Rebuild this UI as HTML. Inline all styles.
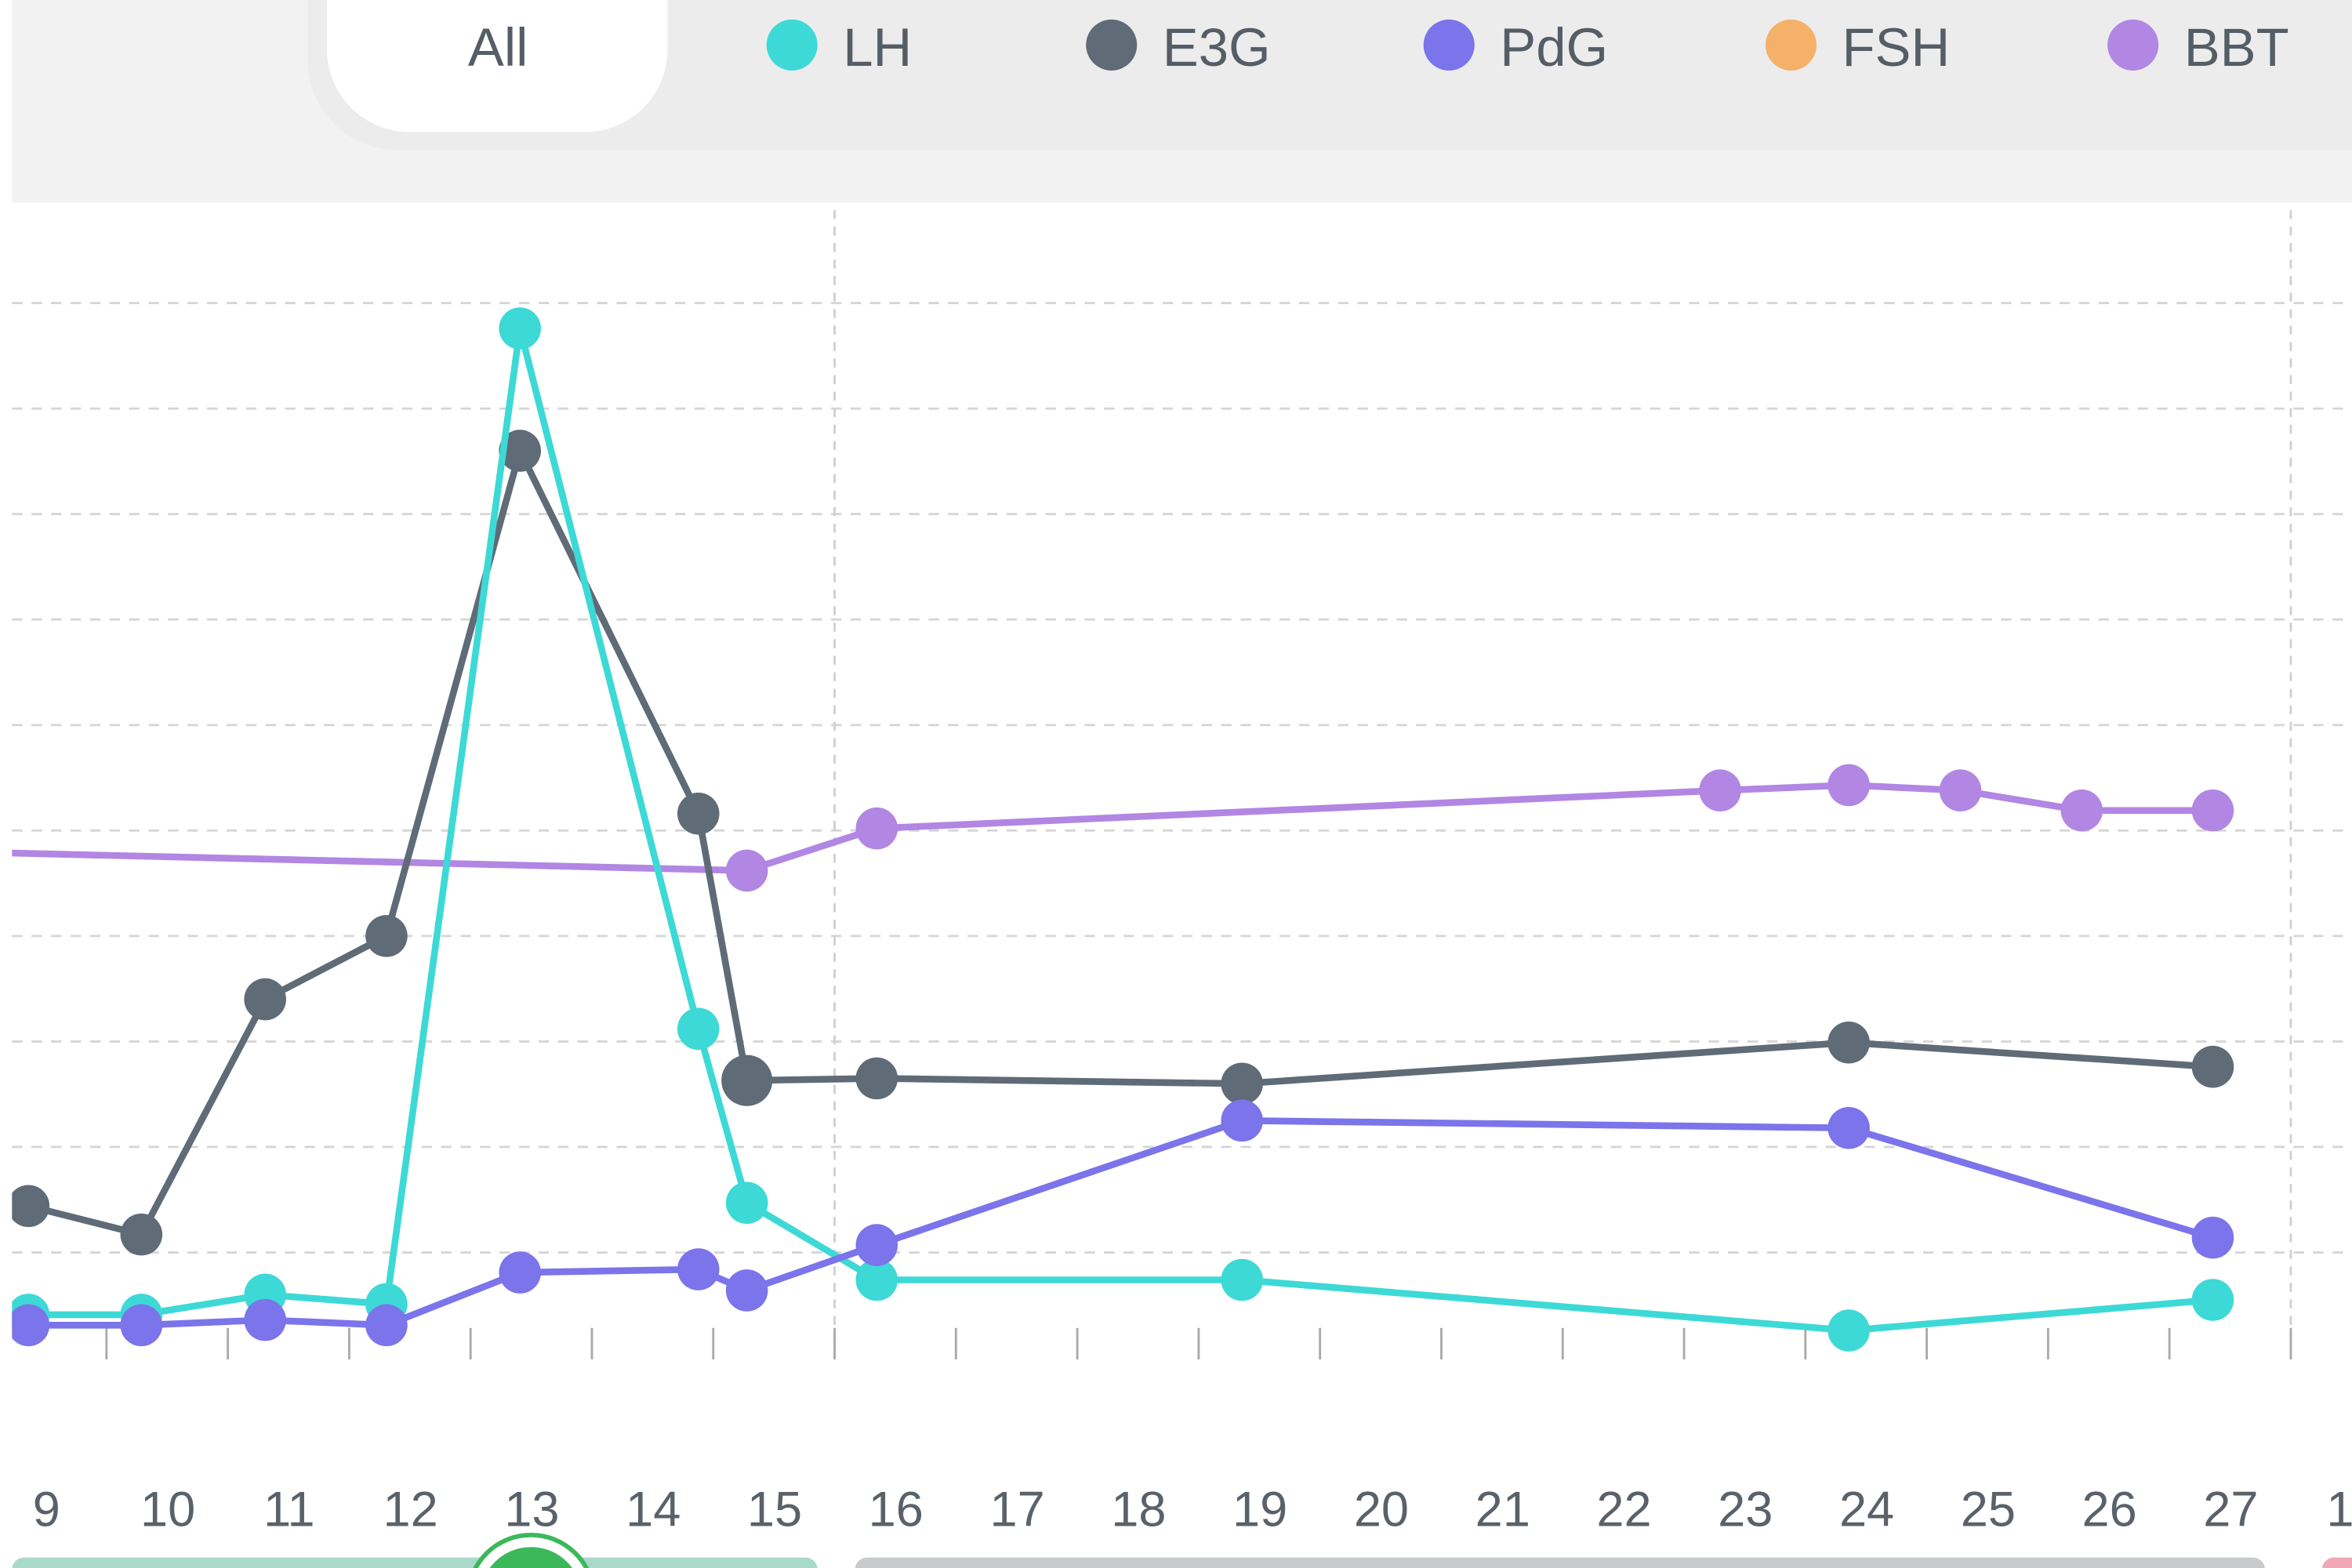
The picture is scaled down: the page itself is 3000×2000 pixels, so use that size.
<!DOCTYPE html>
<html><head><meta charset="utf-8"><style>
html,body{margin:0;padding:0;background:#fff;width:3000px;height:2000px;overflow:hidden}
svg{display:block;overflow:hidden}
text{font-family:"Liberation Sans",sans-serif}
</style></head><body>
<svg id="c" width="3000" height="2000" viewBox="0 0 1568 1045" preserveAspectRatio="none">
<defs><clipPath id="clip"><rect x="8" y="135" width="1560" height="800"/></clipPath></defs>
<rect x="8" y="0" width="1560" height="135" fill="#f3f2f3"/>
<rect x="205" y="-60" width="1420" height="160" rx="60" fill="#ececec"/>
<rect x="218" y="-60" width="227" height="148" rx="55" fill="#ffffff"/>
<text x="332" y="44" font-size="36" fill="#555d66" text-anchor="middle">All</text>
<g id="legend"></g>
<g id="grid"></g>
<g id="series" clip-path="url(#clip)"></g>
<g id="xlabels"></g>
<rect x="8" y="1038" width="537" height="20" rx="8" fill="#a9d9c9"/>
<rect x="570" y="1038" width="940" height="20" rx="8" fill="#c9cacd"/>
<rect x="1548" y="1038" width="40" height="20" rx="8" fill="#f0a8b8"/>
<circle cx="354" cy="1065" r="42" fill="#fff" stroke="#3cb85a" stroke-width="3"/>
<circle cx="354" cy="1065" r="34" fill="#3cb85a"/>
</svg>
<script>
const legendNames=["LH","E3G","PdG","FSH","BBT"];
const legendColors=["#3dd9d6","#5f6b76","#7b74ea","#f5b06a","#b286e3"];
const gridValues=[1,2,3,4,5,6,7,8,9,10];
const dayLabels=[9,10,11,12,13,14,15,16,17,18,19,20,21,22,23,24,25,26,27,1];
const hormoneDays=[9,9.93,10.95,11.95,13.05,14.52,14.92,15.99,19,24,27];
const lhValues=[0.41,0.41,0.6,0.51,9.76,3.12,1.47,0.74,0.74,0.26,0.55];
const e3gValues=[1.44,1.17,3.4,4.0,8.6,5.16,2.63,2.65,2.6,2.99,2.76];
const pdgValues=[0.31,0.31,0.36,0.31,0.81,0.84,0.64,1.07,2.25,2.18,1.14];
const bbtDays=[8,14.92,15.99,22.94,24,24.92,25.92,27];
const bbtValues=[4.81,4.62,5.02,5.38,5.43,5.38,5.19,5.19];

const NS="http://www.w3.org/2000/svg";
const xs=d=>19+(d-9)*80.9;
const ys=v=>905-v*70.3;
function mk(tag,attrs,parent){const e=document.createElementNS(NS,tag);for(const k in attrs)e.setAttribute(k,attrs[k]);parent.appendChild(e);return e;}
const lg=document.getElementById('legend'),gr=document.getElementById('grid'),se=document.getElementById('series'),xl=document.getElementById('xlabels');
const legX=[528,741,966,1194,1422];
legendNames.forEach((n,i)=>{
  const c=mk('circle',{cx:legX[i],cy:30,r:17,fill:legendColors[i]},lg);
  
  
  const t=mk('text',{x:legX[i]+34,y:44,'font-size':36,fill:'#555d66'},lg);
  t.textContent=n;
  
  
});
gridValues.forEach(v=>{
  const l=mk('line',{x1:8,x2:1568,y1:ys(v),y2:ys(v),stroke:'#d6d6d6','stroke-width':1.5,'stroke-dasharray':'7 6'},gr);
  
  
});
[15.5,27.5].forEach(d=>{
  const xx=71+(d-9.5)*80.9;
  const l=mk('line',{x1:xx,x2:xx,y1:140,y2:905,stroke:'#d0d0d0','stroke-width':1.5,'stroke-dasharray':'6 5'},gr);
  
  
});
dayLabels.forEach((d,i)=>{
  if(i<19){const xx=71+i*80.9;
  const tk=mk('line',{x1:xx,x2:xx,y1:885,y2:906,stroke:'#aaaaaa','stroke-width':1.5},gr);
  
  }
  const t=mk('text',{x:31+i*80.9+(i==19?-8:0),y:1017,'font-size':33,fill:'#5a6169','text-anchor':'middle'},xl);
  t.textContent=d;
  
  
});
function series(name,days,vals,color,big){
  const pts=days.map((d,i)=>xs(d)+','+ys(vals[i])).join(' ');
  const pl=mk('polyline',{points:pts,fill:'none',stroke:color,'stroke-width':4.5,'stroke-linejoin':'round'},se);
  
  
  days.forEach((d,i)=>{
    const c=mk('circle',{cx:xs(d),cy:ys(vals[i]),r:(big===i?17:14),fill:color},se);
    
    
  });
}
series('bbt',bbtDays,bbtValues,legendColors[4]);
series('e3g',hormoneDays,e3gValues,legendColors[1],6);
series('lh',hormoneDays,lhValues,legendColors[0]);
series('pdg',hormoneDays,pdgValues,legendColors[2]);
</script>
</body></html>
